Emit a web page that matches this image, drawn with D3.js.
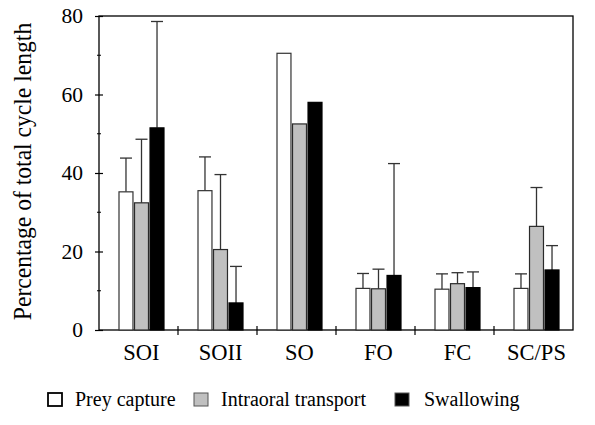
<!DOCTYPE html>
<html>
<head>
<meta charset="utf-8">
<script src="https://cdn.jsdelivr.net/npm/d3@7"></script>
</head>
<body style="margin:0; background:#fff">
<div id="chart"></div>
<script>
// chart values
var categories = ["SOI", "SOII", "SO", "FO", "FC", "SC/PS"];
var seriesNames = ["Prey capture", "Intraoral transport", "Swallowing"];
var preyCapture = [35.2, 35.5, 70.5, 10.6, 10.4, 10.6];
var intraoral = [32.4, 20.5, 52.5, 10.5, 11.8, 26.4];
var swallowing = [51.5, 6.9, 58.0, 13.9, 10.8, 15.3];
// upper ends of error bars (null = none)
var preyErr = [43.8, 44.1, null, 14.4, 14.3, 14.3];
var intraErr = [48.6, 39.6, null, 15.5, 14.6, 36.3];
var swallowErr = [78.6, 16.2, null, 42.4, 14.8, 21.5];
var yTicks = [0, 20, 40, 60, 80];
var yMinor = [10, 30, 50, 70];

var svgWidth = 595;
var svgHeight = 425;
var margin = { top: 16, right: 22, bottom: 95, left: 99 };
var width = svgWidth - margin.left - margin.right;
var height = svgHeight - margin.top - margin.bottom;
var serif = "Liberation Serif";

var fills = ["#ffffff", "#c0c0c0", "#000000"];
var strokes = ["#333333", "#2a2a2a", "#000000"];

var svg = d3.select("#chart").append("svg")
  .attr("width", svgWidth)
  .attr("height", svgHeight)
  .attr("font-family", serif);

var chartGroup = svg.append("g")
  .attr("transform", `translate(${margin.left}, ${margin.top})`);

var x0 = d3.scaleBand().domain(categories).range([0, width]);
var x1 = d3.scaleBand().domain(d3.range(3)).range([20, 65]).paddingInner(0.1);
var y = d3.scaleLinear().domain([0, 80]).range([height, 0]);

var data = categories.map(function (c, i) {
  return {
    cat: c,
    bars: [
      { s: 0, v: preyCapture[i], e: preyErr[i] },
      { s: 1, v: intraoral[i], e: intraErr[i] },
      { s: 2, v: swallowing[i], e: swallowErr[i] }
    ]
  };
});

// frame
chartGroup.append("rect")
  .attr("x", 0).attr("y", 0)
  .attr("width", width).attr("height", height)
  .attr("fill", "none").attr("stroke", "#000").attr("stroke-width", 1.3);

// groups of bars
var groups = chartGroup.selectAll(".grp").data(data).enter().append("g")
  .attr("class", "grp")
  .attr("transform", d => `translate(${x0(d.cat)}, 0)`);

// error bars (drawn first, bars sit over them)
var errs = groups.selectAll(".err").data(d => d.bars.filter(b => b.e !== null)).enter().append("g")
  .attr("class", "err")
  .attr("stroke", "#333")
  .attr("stroke-width", 1.3);
errs.append("line")
  .attr("x1", d => x1(d.s) + x1.bandwidth() / 2)
  .attr("x2", d => x1(d.s) + x1.bandwidth() / 2)
  .attr("y1", d => y(d.v))
  .attr("y2", d => y(d.e));
errs.append("line")
  .attr("x1", d => x1(d.s) + x1.bandwidth() / 2 - 6)
  .attr("x2", d => x1(d.s) + x1.bandwidth() / 2 + 6)
  .attr("y1", d => y(d.e))
  .attr("y2", d => y(d.e));

groups.selectAll("rect").data(d => d.bars).enter().append("rect")
  .attr("x", d => x1(d.s))
  .attr("y", d => y(d.v))
  .attr("width", x1.bandwidth())
  .attr("height", d => height - y(d.v))
  .attr("fill", d => fills[d.s])
  .attr("stroke", d => strokes[d.s])
  .attr("stroke-width", 1.2);

// y axis
var leftAxis = d3.axisLeft(y).tickValues(yTicks).tickSize(4).tickPadding(12).tickFormat(d3.format("d"));
var yAxis = chartGroup.append("g").call(leftAxis)
  .attr("font-family", serif)
  .attr("font-size", 21.5);
yAxis.select(".domain").remove();
yAxis.selectAll(".tick line").attr("x2", 4).attr("x1", -4).attr("stroke-width", 1.2);

chartGroup.selectAll(".minor").data(yMinor).enter().append("line")
  .attr("class", "minor")
  .attr("x1", -2).attr("x2", 2)
  .attr("y1", d => y(d)).attr("y2", d => y(d))
  .attr("stroke", "#000").attr("stroke-width", 1);

// x axis: separators between categories
chartGroup.selectAll(".sep").data(categories.slice(1)).enter().append("line")
  .attr("class", "sep")
  .attr("x1", d => x0(d)).attr("x2", d => x0(d))
  .attr("y1", height - 4).attr("y2", height + 5)
  .attr("stroke", "#000").attr("stroke-width", 1.2);

chartGroup.selectAll(".xlab").data(categories).enter().append("text")
  .attr("class", "xlab")
  .attr("x", d => x0(d) + x1(1) + x1.bandwidth() / 2)
  .attr("y", height + 30)
  .attr("text-anchor", "middle")
  .attr("font-family", serif)
  .attr("font-size", 22.5)
  .text(d => d);

// y axis title (glyphs are a bit stretched in the original)
svg.append("text")
  .attr("transform", "rotate(-90) scale(1, 1.1)")
  .attr("x", -171.5)
  .attr("y", 28.2)
  .attr("text-anchor", "middle")
  .attr("font-family", serif)
  .attr("font-size", 23.6)
  .text("Percentage of total cycle length");

// legend
var legendX = [48, 194, 395];
var legend = svg.selectAll(".leg").data(seriesNames).enter().append("g")
  .attr("class", "leg")
  .attr("transform", (d, i) => `translate(${legendX[i]}, 393)`);
legend.append("rect")
  .attr("width", 14).attr("height", 13)
  .attr("fill", (d, i) => fills[i])
  .attr("stroke", (d, i) => i === 0 ? "#000" : "#555")
  .attr("stroke-width", (d, i) => i === 0 ? 1.8 : 1);
legend.append("text")
  .attr("x", (d, i) => i === 2 ? 29 : 27)
  .attr("y", 13)
  .attr("font-family", serif)
  .attr("font-size", 20)
  .text(d => d);
</script>
</body>
</html>
